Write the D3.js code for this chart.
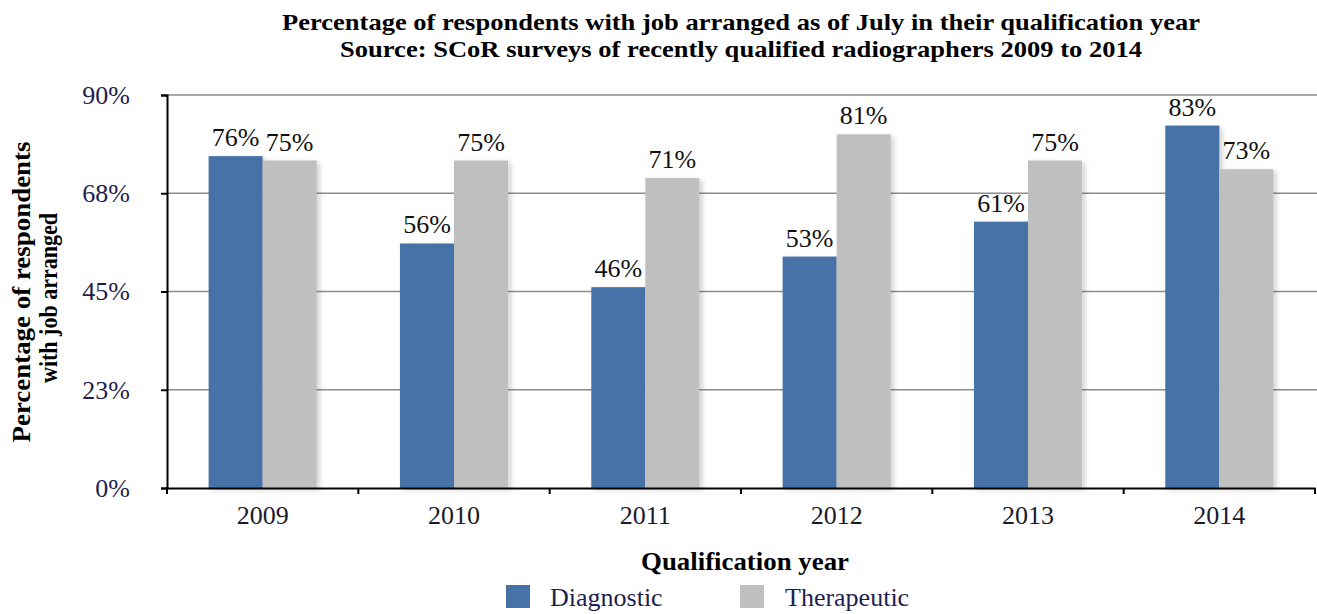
<!DOCTYPE html>
<html>
<head>
<meta charset="utf-8">
<script src="https://cdn.jsdelivr.net/npm/d3@7"></script>
<style>
  body { margin: 0; background: #fff; }
  svg text { font-family: "Liberation Serif", "Times New Roman", serif; }
</style>
</head>
<body>
<div id="chart"></div>
<script>
const years = ["2009", "2010", "2011", "2012", "2013", "2014"];
const seriesNames = ["Diagnostic", "Therapeutic"];
const diagnostic = [76, 56, 46, 53, 61, 83];
const therapeutic = [75, 75, 71, 81, 75, 73];
const yTicks = [0, 22.5, 45, 67.5, 90];
const yTickLabels = ["0%", "23%", "45%", "68%", "90%"];
const colors = ["#4672a8", "#bfbfbf"];

const width = 1317, height = 614;
const margin = { top: 95, right: 2, bottom: 126, left: 167 };
const serif = "Liberation Serif";

const svg = d3.select("#chart").append("svg")
    .attr("width", width)
    .attr("height", height)
    .attr("font-family", serif);

// soft shadow under the bars
svg.append("defs").append("filter")
    .attr("id", "shadow")
    .attr("x", "-20%").attr("y", "-5%")
    .attr("width", "140%").attr("height", "110%")
    .append("feDropShadow")
    .attr("dx", 3).attr("dy", 2)
    .attr("stdDeviation", 2.5)
    .attr("flood-color", "#000")
    .attr("flood-opacity", 0.18);

const x = d3.scaleBand()
    .domain(years)
    .range([margin.left, width - margin.right])
    .padding(0);

const xSub = d3.scaleBand()
    .domain(seriesNames)
    .range([0, x.bandwidth()])
    .paddingInner(0)
    .paddingOuter(0.77);

const y = d3.scaleLinear()
    .domain([0, 90])
    .range([height - margin.bottom, margin.top]);

// gridlines
svg.append("g")
    .selectAll("line")
    .data(yTicks.slice(1))
    .join("line")
    .attr("x1", margin.left)
    .attr("x2", width)
    .attr("y1", d => y(d))
    .attr("y2", d => y(d))
    .attr("stroke", "#8c8c8c")
    .attr("stroke-width", 1.3);

// bars
const rows = years.map((yr, i) => ({ year: yr, values: [diagnostic[i], therapeutic[i]] }));

const groups = svg.append("g")
    .selectAll("g")
    .data(rows)
    .join("g")
    .attr("transform", d => `translate(${x(d.year)},0)`);

groups.append("g")
    .attr("filter", "url(#shadow)")
    .selectAll("rect")
    .data(d => d.values.map((v, j) => ({ key: seriesNames[j], value: v, j })))
    .join("rect")
    .attr("x", d => xSub(d.key))
    .attr("y", d => y(d.value))
    .attr("width", xSub.bandwidth())
    .attr("height", d => y(0) - y(d.value))
    .attr("fill", d => colors[d.j]);

groups.selectAll("text")
    .data(d => d.values.map((v, j) => ({ key: seriesNames[j], value: v })))
    .join("text")
    .attr("x", d => xSub(d.key) + xSub.bandwidth() / 2)
    .attr("y", d => y(d.value) - 10)
    .attr("text-anchor", "middle")
    .attr("font-family", serif)
    .attr("font-size", 26)
    .attr("fill", "#111")
    .text(d => d.value + "%");

// y axis
const yAxis = d3.axisLeft(y)
    .tickValues(yTicks)
    .tickFormat((d, i) => yTickLabels[i])
    .tickSize(6)
    .tickPadding(31);

svg.append("g")
    .attr("transform", `translate(${margin.left},0)`)
    .call(yAxis)
    .attr("font-family", serif)
    .call(g => g.select(".domain").attr("stroke", "#000").attr("stroke-width", 2))
    .call(g => g.selectAll(".tick line").attr("stroke", "#000").attr("stroke-width", 2))
    .call(g => g.selectAll(".tick text")
        .attr("font-family", serif)
        .attr("font-size", 26)
        .attr("fill", "#1e1e50"));

// x axis
const xAxis = d3.axisBottom(x)
    .tickSize(0)
    .tickPadding(18);

const gx = svg.append("g")
    .attr("transform", `translate(0,${y(0)})`)
    .call(xAxis)
    .attr("font-family", serif)
    .call(g => g.select(".domain").attr("stroke", "#000").attr("stroke-width", 2))
    .call(g => g.selectAll(".tick text")
        .attr("font-family", serif)
        .attr("font-size", 26)
        .attr("fill", "#1a1a2e"));

// boundary ticks between categories
gx.append("g")
    .selectAll("line")
    .data(years.map(d => x(d)).concat([x(years[years.length - 1]) + x.bandwidth()]))
    .join("line")
    .attr("x1", d => d)
    .attr("x2", d => d)
    .attr("y1", 0)
    .attr("y2", 6)
    .attr("stroke", "#000")
    .attr("stroke-width", 2);

// title
svg.append("text")
    .attr("x", 741)
    .attr("y", 30)
    .attr("text-anchor", "middle")
    .attr("font-size", 23)
    .attr("font-weight", "bold")
    .attr("textLength", 918)
    .attr("lengthAdjust", "spacingAndGlyphs")
    .text("Percentage of respondents with job arranged as of July in their qualification year");

svg.append("text")
    .attr("x", 741)
    .attr("y", 57)
    .attr("text-anchor", "middle")
    .attr("font-size", 23)
    .attr("font-weight", "bold")
    .attr("textLength", 802)
    .attr("lengthAdjust", "spacingAndGlyphs")
    .text("Source: SCoR surveys of recently qualified radiographers 2009 to 2014");

// y axis title
svg.append("text")
    .attr("transform", "translate(30,292) rotate(-90)")
    .attr("text-anchor", "middle")
    .attr("font-size", 26)
    .attr("font-weight", "bold")
    .attr("textLength", 301)
    .attr("lengthAdjust", "spacingAndGlyphs")
    .text("Percentage of respondents");

svg.append("text")
    .attr("transform", "translate(57,298) rotate(-90)")
    .attr("text-anchor", "middle")
    .attr("font-size", 26)
    .attr("font-weight", "bold")
    .attr("textLength", 170)
    .attr("lengthAdjust", "spacingAndGlyphs")
    .text("with job arranged");

// x axis title
svg.append("text")
    .attr("x", 745)
    .attr("y", 570)
    .attr("text-anchor", "middle")
    .attr("font-size", 26)
    .attr("font-weight", "bold")
    .attr("textLength", 208)
    .attr("lengthAdjust", "spacingAndGlyphs")
    .text("Qualification year");

// legend
const legendX = [506, 740];
const legend = svg.append("g")
    .selectAll("g")
    .data(seriesNames)
    .join("g")
    .attr("transform", (d, i) => `translate(${legendX[i]},585)`);

legend.append("rect")
    .attr("width", 24)
    .attr("height", 23)
    .attr("fill", (d, i) => colors[i]);

legend.append("text")
    .attr("x", d => d === "Diagnostic" ? 44 : 45)
    .attr("y", 21)
    .attr("font-family", serif)
    .attr("font-size", 26)
    .attr("fill", "#1e1e50")
    .text(d => d);
</script>
</body>
</html>
